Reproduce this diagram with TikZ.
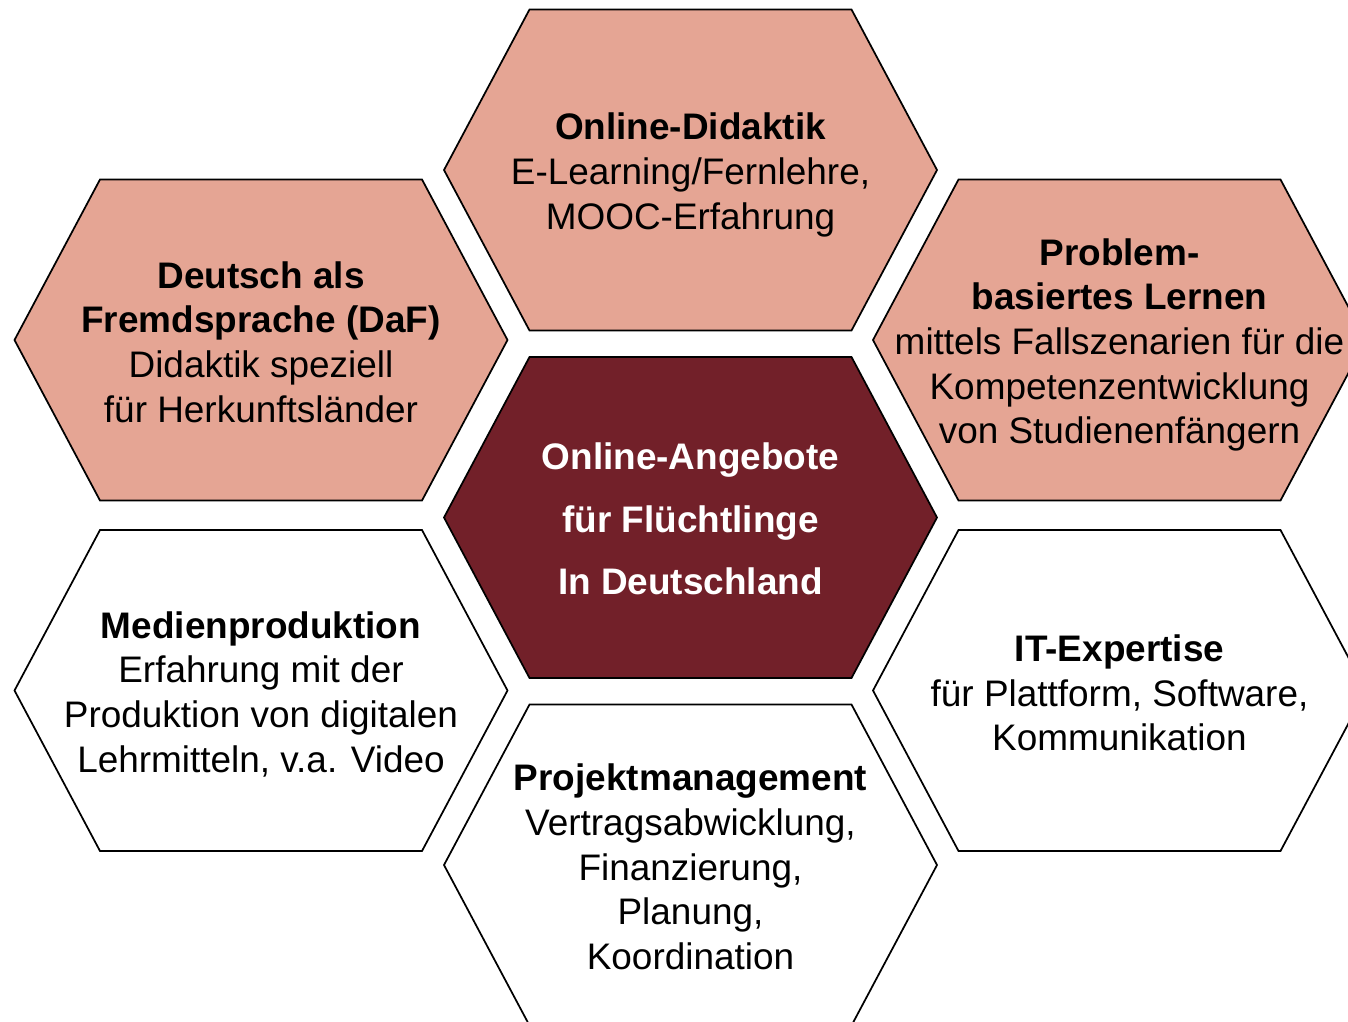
\documentclass[tikz,border=0pt]{standalone}
\usepackage{fontspec}
\setmainfont{Liberation Sans}
\definecolor{salmon}{RGB}{229,165,148}
\definecolor{darkred}{RGB}{114,32,41}
\tikzset{
  hexa/.pic={\path[pic actions] (-246.5,0) -- (-161,-160.5) -- (161,-160.5) -- (246.5,0) -- (161,160.5) -- (-161,160.5) -- cycle;},
  hexline/.style={draw=black, line width=1.3pt},
  txt/.style={align=center, inner sep=0pt, text=black, font=\fontsize{27.7}{33.5}\selectfont},
  ctxt/.style={align=center, inner sep=0pt, text=white, font=\fontsize{27.7}{46.9}\selectfont\bfseries}
}
\begin{document}
\begin{tikzpicture}[x=0.75pt, y=-0.75pt]
\clip (0,0) rectangle (1348,1021);
\fill[white] (0,0) rectangle (1348,1021);
% hexagons
\pic[hexline, fill=salmon] at (690.5,170) {hexa};
\pic[hexline, fill=salmon] at (261,340) {hexa};
\pic[hexline, fill=salmon] at (1119.5,340) {hexa};
\pic[hexline, fill=darkred] at (690.5,517.5) {hexa};
\pic[hexline, fill=white] at (261,690.5) {hexa};
\pic[hexline, fill=white] at (1119.5,690.5) {hexa};
\pic[hexline, fill=white] at (690.5,865) {hexa};
% texts
\node[txt] (didaktik) at (690.5,175) {\textbf{Online-Didaktik}\\E-Learning/Fernlehre,\\MOOC-Erfahrung};
\node[txt] (daf) at (261,342) {\textbf{Deutsch als}\\\textbf{Fremdsprache (DaF)}\\Didaktik speziell\\für Herkunftsländer};
\node[txt] (pbl) at (1119.5,345) {\textbf{Problem-}\\\textbf{basiertes Lernen}\\mittels Fallszenarien für die\\Kompetenzentwicklung\\von Studienenfängern};
\node[ctxt] (center) at (690.5,519) {Online-Angebote\\für Flüchtlinge\\In Deutschland};
\node[txt] (medien) at (261,694) {\textbf{Medienproduktion}\\Erfahrung mit der\\Produktion von digitalen\\Lehrmitteln, v.a. Video};
\node[txt] (it) at (1119.5,693) {\textbf{IT-Expertise}\\für Plattform, Software,\\Kommunikation};
\node[txt] (pm) at (690.5,867) {\textbf{Projektmanagement}\\Vertragsabwicklung,\\Finanzierung,\\Planung,\\Koordination};
\end{tikzpicture}
\end{document}
